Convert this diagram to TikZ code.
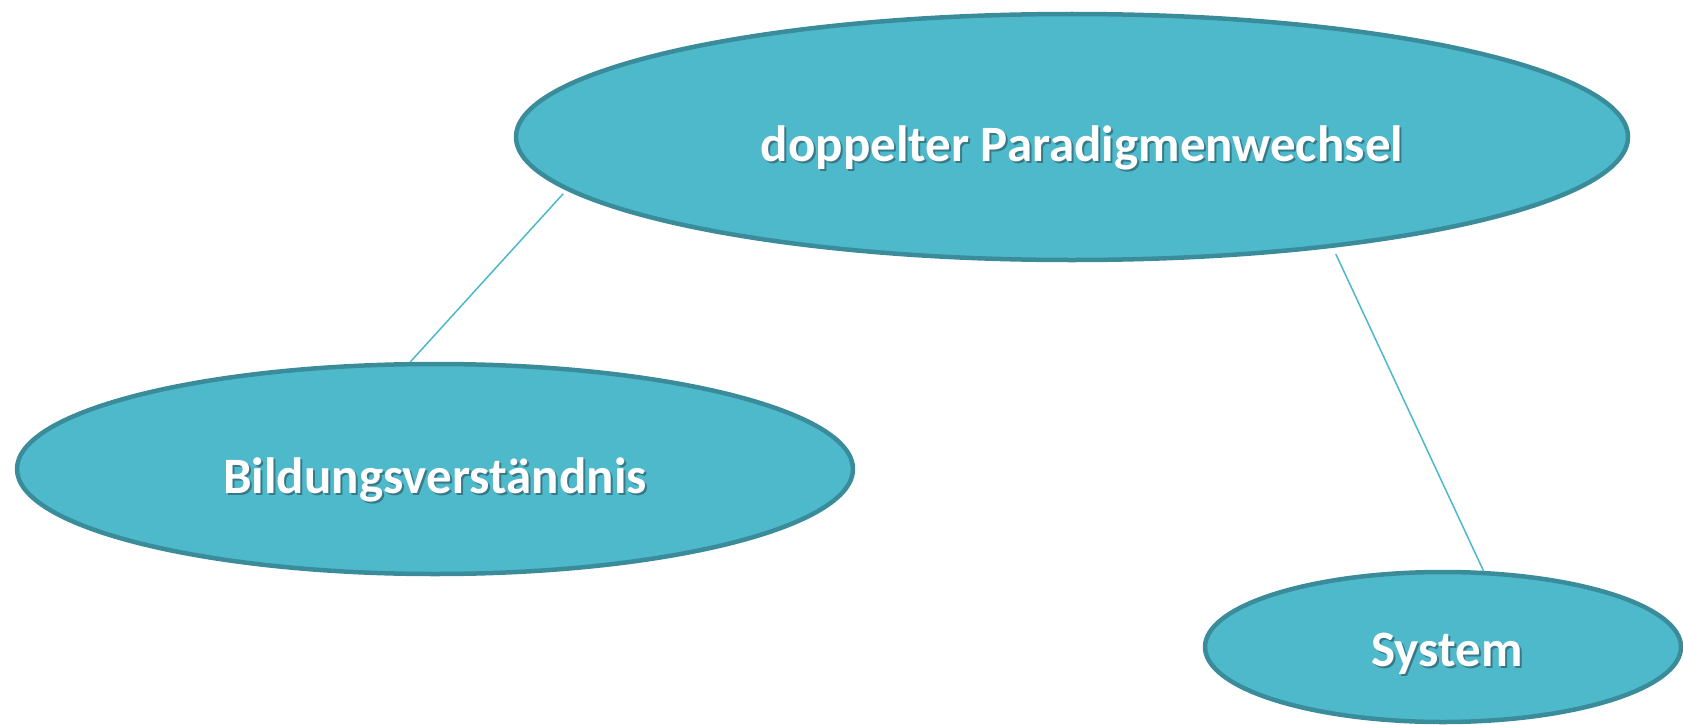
\documentclass[tikz,border=0pt]{standalone}
\usepackage{fontspec}
\setmainfont{Carlito}
\usetikzlibrary{shapes.geometric}
\definecolor{efill}{RGB}{77,185,203}
\definecolor{edraw}{RGB}{58,140,155}
\definecolor{linkc}{RGB}{75,184,203}
\definecolor{shadowc}{RGB}{40,70,80}
\tikzset{
  bubble/.style={ellipse, draw=edraw, line width=4.5pt, fill=efill, inner sep=0pt},
  lbl/.style={text=white, font=\fontsize{51}{55}\selectfont\bfseries, inner sep=0pt, anchor=base},
  lblshadow/.style={text=shadowc, opacity=0.55, font=\fontsize{51}{55}\selectfont\bfseries, inner sep=0pt, anchor=base},
  link/.style={draw=linkc, line width=1.5pt}
}
\begin{document}
\begin{tikzpicture}[x=1pt,y=-1pt]
\useasboundingbox (0,0) rectangle (1683,725);
\node[bubble, minimum width=1112pt, minimum height=246pt] (top) at (1072,137) {};
\node[bubble, minimum width=836pt, minimum height=210pt] (bild) at (435,469) {};
\node[bubble, minimum width=476pt, minimum height=150pt] (sys) at (1443,647) {};
\node[lblshadow] (topS) at (1084,163) {doppelter Paradigmenwechsel};
\node[lbl] (topT) at (1082,161) {doppelter Paradigmenwechsel};
\node[lblshadow] (bildS) at (437,495) {Bildungsverständnis};
\node[lbl] (bildT) at (435,493) {Bildungsverständnis};
\node[lblshadow] (sysS) at (1449,668) {System};
\node[lbl] (sysT) at (1447,666) {System};
\draw[link, shorten <=5pt] (top.186.1) -- (bild.103.7);
\draw[link, shorten <=7pt] (top.-23.6) -- (sys.62);
\end{tikzpicture}
\end{document}
